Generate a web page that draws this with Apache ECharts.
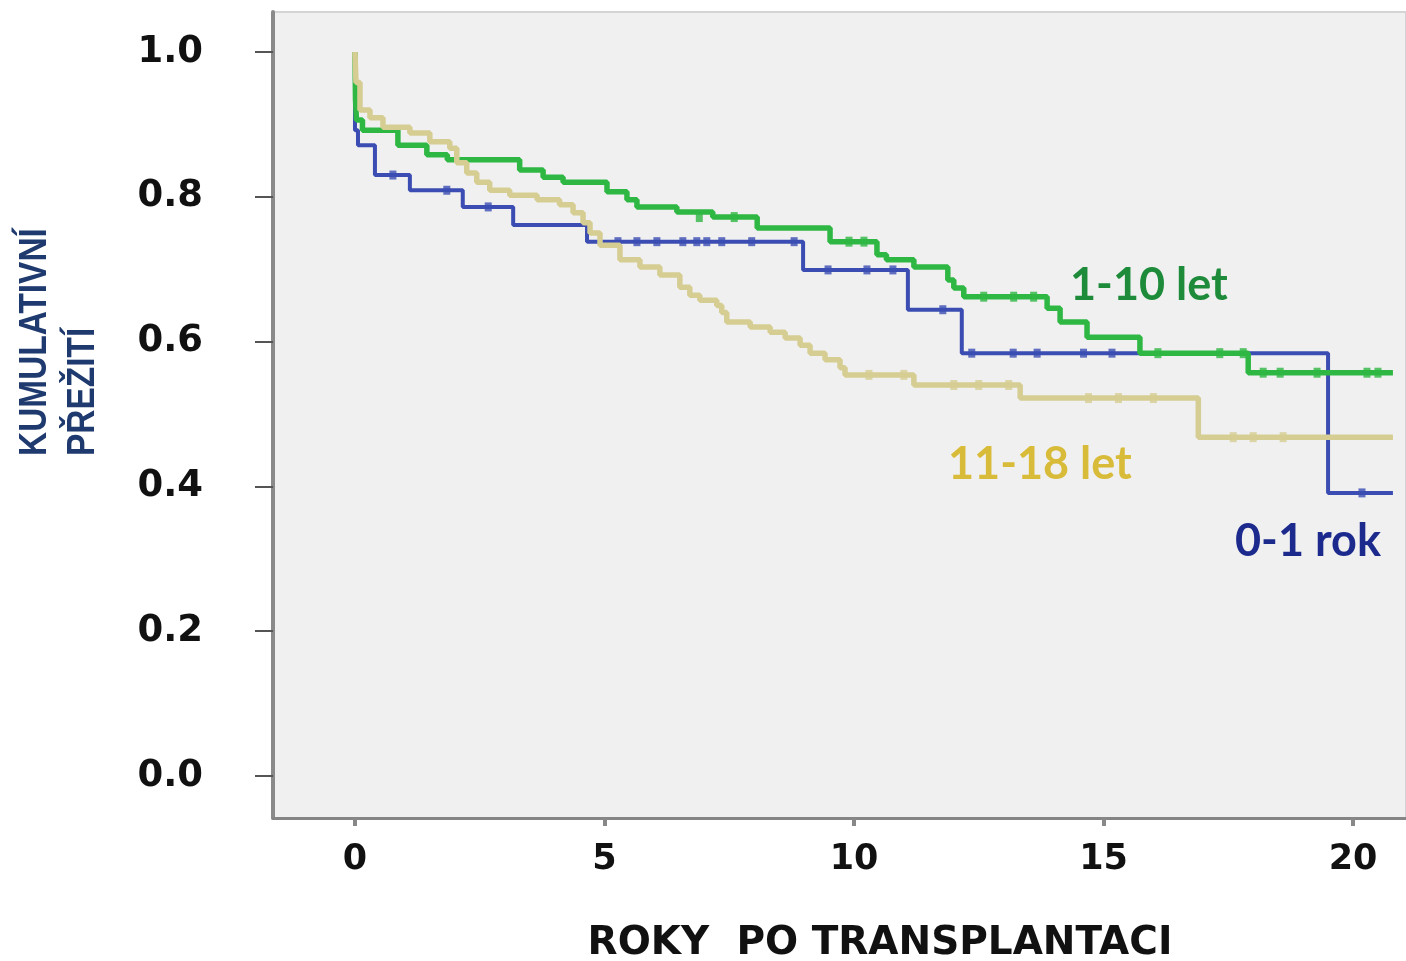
<!DOCTYPE html>
<html>
<head>
<meta charset="utf-8">
<script src="https://cdn.jsdelivr.net/npm/echarts@6/dist/echarts.min.js"></script>
<style>
  html, body { margin: 0; padding: 0; background: #ffffff; }
  #chart { width: 1406px; height: 961px; }
</style>
</head>
<body>
<div id="chart"></div>
<script>
// ---- Data ----
var xTicks = [0, 5, 10, 15, 20];
var yTicks = [0, 0.2, 0.4, 0.6, 0.8, 1.0];

// 0-1 rok (blue): step drop times (years) and survival after each drop
var blueTimes = [0, 0.0, 0.06, 0.4, 1.1, 2.16, 3.17, 4.65, 8.98, 11.08, 12.16, 19.5, 20.8];
var blueSurv  = [1.0, 0.892, 0.871, 0.83, 0.809, 0.786, 0.761, 0.738, 0.699, 0.644, 0.584, 0.391, 0.391];
var blueCensT = [0.76, 1.84, 2.67, 5.27, 5.65, 6.05, 6.57, 6.85, 7.05, 7.35, 7.95, 8.8, 9.48, 10.26, 10.78, 11.78, 12.36, 13.19, 13.67, 14.6, 15.17, 20.18];
var blueCensS = [0.83, 0.809, 0.786, 0.738, 0.738, 0.738, 0.738, 0.738, 0.738, 0.738, 0.738, 0.738, 0.699, 0.699, 0.699, 0.644, 0.584, 0.584, 0.584, 0.584, 0.584, 0.391];

// 1-10 let (green)
var greenTimes = [0, 0.01, 0.03, 0.15, 0.86, 1.44, 1.85, 3.3, 3.77, 4.17, 5.05, 5.45, 5.65, 6.45, 7.17, 8.06, 9.52, 10.46, 10.65, 11.2, 11.88, 12.0, 12.2, 13.87, 14.13, 14.67, 15.73, 17.9, 20.8];
var greenSurv  = [1.0, 0.935, 0.906, 0.892, 0.871, 0.858, 0.851, 0.837, 0.827, 0.82, 0.807, 0.796, 0.786, 0.779, 0.772, 0.757, 0.738, 0.72, 0.713, 0.703, 0.685, 0.674, 0.662, 0.646, 0.627, 0.606, 0.584, 0.557, 0.557];
var greenCensT = [6.9, 7.6, 9.9, 10.2, 12.6, 13.2, 13.6, 16.09, 17.33, 17.8, 18.2, 18.54, 19.28, 20.28, 20.5];
var greenCensS = [0.772, 0.772, 0.738, 0.738, 0.662, 0.662, 0.662, 0.584, 0.584, 0.584, 0.557, 0.557, 0.557, 0.557, 0.557];

// 11-18 let (tan)
var tanTimes = [0, 0.02, 0.1, 0.3, 0.56, 1.1, 1.5, 1.9, 2.04, 2.24, 2.44, 2.7, 3.1, 3.65, 4.1, 4.37, 4.57, 4.71, 4.91, 5.31, 5.71, 6.11, 6.51, 6.71, 6.91, 7.25, 7.35, 7.45, 7.92, 8.32, 8.62, 8.92, 9.12, 9.42, 9.72, 9.82, 11.2, 13.33, 16.9, 20.8];
var tanSurv  = [1.0, 0.958, 0.92, 0.909, 0.896, 0.888, 0.876, 0.867, 0.847, 0.833, 0.82, 0.809, 0.802, 0.796, 0.789, 0.778, 0.764, 0.75, 0.733, 0.713, 0.703, 0.692, 0.675, 0.664, 0.657, 0.65, 0.64, 0.627, 0.62, 0.613, 0.605, 0.595, 0.584, 0.575, 0.564, 0.554, 0.54, 0.522, 0.468, 0.468];
var tanCensT = [10.3, 11.0, 12.0, 12.5, 13.1, 14.7, 15.3, 16.0, 17.6, 18.0, 18.6];
var tanCensS = [0.554, 0.554, 0.54, 0.54, 0.54, 0.522, 0.522, 0.522, 0.468, 0.468, 0.468];

var labels = { green: '1-10 let', tan: '11-18 let', blue: '0-1 rok' };
var xTitle = 'ROKY  PO TRANSPLANTACI';
var yTitle1 = 'KUMULATIVNÍ';
var yTitle2 = 'PŘEŽITÍ';

function zip(a, b) { return a.map(function (v, i) { return [v, b[i]]; }); }

var COL_BLUE = '#3b4db2';
var COL_GREEN = '#2fb744';
var COL_TAN = '#d6cd92';

var chart = echarts.init(document.getElementById('chart'), null, { renderer: 'canvas' });

var option = {
  animation: false,
  backgroundColor: '#ffffff',
  grid: {
    left: 273, top: 12, right: 0, bottom: 143,
    show: true, backgroundColor: '#f0f0f0', borderColor: '#d4d4d4', borderWidth: 2
  },
  xAxis: {
    type: 'value', min: -1.643, max: 21.062,
    splitLine: { show: false },
    axisLine: { show: true, onZero: false, lineStyle: { color: '#858585', width: 3 } },
    axisTick: { show: true, customValues: xTicks, length: 8, lineStyle: { color: '#888888', width: 4 } },
    axisLabel: {
      customValues: xTicks, margin: 24, color: '#111111',
      fontFamily: 'DejaVu Sans', fontWeight: 'bold', fontSize: 35
    }
  },
  yAxis: {
    type: 'value', min: -0.058, max: 1.0552,
    splitLine: { show: false },
    axisLine: { show: true, onZero: false, lineStyle: { color: '#8a8a8a', width: 4 } },
    axisTick: { show: true, customValues: yTicks, length: 18, lineStyle: { color: '#555555', width: 2 } },
    axisLabel: {
      customValues: yTicks, margin: 70, color: '#111111',
      fontFamily: 'DejaVu Sans', fontWeight: 'bold', fontSize: 37,
      formatter: function (v) { return v.toFixed(1); }
    }
  },
  series: [
    { name: labels.blue, type: 'line', step: 'end', showSymbol: false, z: 2,
      data: zip(blueTimes, blueSurv), lineStyle: { color: COL_BLUE, width: 4 } },
    { name: labels.blue + ' c', type: 'scatter', symbol: 'rect', symbolSize: [7, 9], z: 2,
      data: zip(blueCensT, blueCensS), itemStyle: { color: COL_BLUE } },
    { name: labels.green, type: 'line', step: 'end', showSymbol: false, z: 3,
      data: zip(greenTimes, greenSurv), lineStyle: { color: COL_GREEN, width: 5.5 } },
    { name: labels.green + ' c', type: 'scatter', symbol: 'rect', symbolSize: [7, 10], z: 3,
      data: zip(greenCensT, greenCensS), itemStyle: { color: COL_GREEN } },
    { name: labels.tan, type: 'line', step: 'end', showSymbol: false, z: 4,
      data: zip(tanTimes, tanSurv), lineStyle: { color: COL_TAN, width: 5.5 } },
    { name: labels.tan + ' c', type: 'scatter', symbol: 'rect', symbolSize: [7, 10], z: 4,
      data: zip(tanCensT, tanCensS), itemStyle: { color: COL_TAN } }
  ],
  graphic: [
    { type: 'text', x: 1070, y: 285, z: 10,
      style: { text: labels.green, font: 'bold 45px Lato', fill: '#1e8b3a', align: 'left', verticalAlign: 'middle' } },
    { type: 'text', x: 948, y: 464, z: 10,
      style: { text: labels.tan, font: 'bold 45px Lato', fill: '#d9bb3a', align: 'left', verticalAlign: 'middle' } },
    { type: 'text', x: 1235, y: 541, z: 10,
      style: { text: labels.blue, font: 'bold 45px Lato', fill: '#1b2a8c', align: 'left', verticalAlign: 'middle' } },
    { type: 'text', x: 880, y: 944, z: 10,
      style: { text: xTitle, font: 'bold 39px "DejaVu Sans"', fill: '#111111', align: 'center', verticalAlign: 'middle' } },
    { type: 'text', x: 36, y: 456, rotation: Math.PI / 2, scaleX: 0.88, z: 10,
      style: { text: yTitle1, font: 'bold 38px "Liberation Sans"', fill: '#1f3a6e', align: 'left', verticalAlign: 'middle' } },
    { type: 'text', x: 84, y: 456, rotation: Math.PI / 2, scaleX: 0.88, z: 10,
      style: { text: yTitle2, font: 'bold 38px "Liberation Sans"', fill: '#1f3a6e', align: 'left', verticalAlign: 'middle' } }
  ]
};
chart.setOption(option);
</script>
</body>
</html>
